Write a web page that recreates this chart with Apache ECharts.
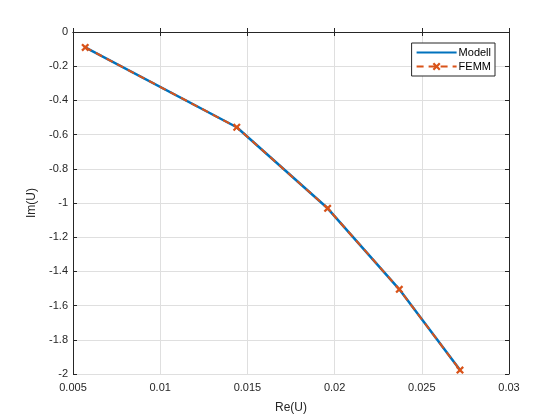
<!DOCTYPE html>
<html>
<head>
<meta charset="utf-8">
<script src="https://cdn.jsdelivr.net/npm/echarts@6/dist/echarts.min.js"></script>
<style>html,body{margin:0;padding:0;background:#fff}#c{width:560px;height:420px}</style>
</head>
<body>
<div id="c"></div>
<script>
const reValues = [0.0057, 0.01439, 0.0196, 0.02371, 0.02719];
const imModell = [-0.09, -0.557, -1.031, -1.505, -1.977];
const imFEMM = [-0.09, -0.557, -1.031, -1.505, -1.977];
const seriesNames = ['Modell', 'FEMM'];

const axisColor = '#262626';
const gridColor = '#dfdfdf';
const fontFamily = 'Liberation Sans, Arial, sans-serif';
const crossPath = 'path://M0,2 L2,0 L5,3 L8,0 L10,2 L7,5 L10,8 L8,10 L5,7 L2,10 L0,8 L3,5 Z';

function fmt(v) { return String(parseFloat(v.toFixed(4))); }

const chart = echarts.init(document.getElementById('c'), null, {renderer: 'canvas'});
chart.setOption({
  backgroundColor: '#fff',
  animation: false,
  textStyle: {fontFamily: fontFamily},
  grid: {left: 73, right: 51, top: 32, bottom: 46, containLabel: false},
  legend: {
    top: 43, right: 65,
    orient: 'vertical',
    backgroundColor: '#fff',
    borderColor: axisColor, borderWidth: 1, borderRadius: 0,
    padding: [4, 4, 4, 4],
    itemGap: 3,
    itemWidth: 40, itemHeight: 10,
    textStyle: {fontSize: 11, color: '#000', fontFamily: fontFamily, padding: [0, 0, 0, -3]},
    data: [{name: seriesNames[0], itemStyle: {opacity: 0}}, {name: seriesNames[1]}]
  },
  xAxis: [{
    type: 'value', min: 0.005, max: 0.03, interval: 0.005,
    name: 'Re(U)', nameLocation: 'middle', nameGap: 28,
    nameTextStyle: {fontSize: 12, color: axisColor},
    axisLine: {show: true, lineStyle: {color: axisColor, width: 1}},
    axisTick: {show: true, inside: true, length: 4, lineStyle: {color: axisColor}},
    axisLabel: {fontSize: 11, color: axisColor, margin: 8, formatter: fmt},
    splitLine: {show: true, lineStyle: {color: gridColor, width: 1}}
  }, {
    type: 'value', position: 'top', min: 0.005, max: 0.03, interval: 0.005,
    axisLine: {show: true, lineStyle: {color: axisColor, width: 1}},
    axisTick: {show: true, inside: true, length: 4, lineStyle: {color: axisColor}},
    axisLabel: {show: false}, splitLine: {show: false}
  }],
  yAxis: [{
    type: 'value', min: -2, max: 0, interval: 0.2,
    name: 'Im(U)', nameLocation: 'middle', nameGap: 32, nameRotate: 90,
    nameTextStyle: {fontSize: 12, color: axisColor},
    axisLine: {show: true, lineStyle: {color: axisColor, width: 1}},
    axisTick: {show: true, inside: true, length: 4, lineStyle: {color: axisColor}},
    axisLabel: {fontSize: 11, color: axisColor, margin: 5, formatter: fmt},
    splitLine: {show: true, lineStyle: {color: gridColor, width: 1}}
  }, {
    type: 'value', position: 'right', min: -2, max: 0, interval: 0.2,
    axisLine: {show: true, lineStyle: {color: axisColor, width: 1}},
    axisTick: {show: true, inside: true, length: 4, lineStyle: {color: axisColor}},
    axisLabel: {show: false}, splitLine: {show: false}
  }],
  series: [{
    name: seriesNames[0], type: 'line',
    data: reValues.map((x, i) => [x, imModell[i]]),
    showSymbol: false, symbol: 'none',
    lineStyle: {color: '#0072BD', width: 2.5},
    itemStyle: {color: '#0072BD'}
  }, {
    name: seriesNames[1], type: 'line',
    data: reValues.map((x, i) => [x, imFEMM[i]]),
    symbol: crossPath, symbolSize: 8, showSymbol: true,
    lineStyle: {color: '#D95319', width: 2, type: [7, 5]},
    itemStyle: {color: '#D95319'}
  }]
});
</script>
</body>
</html>
